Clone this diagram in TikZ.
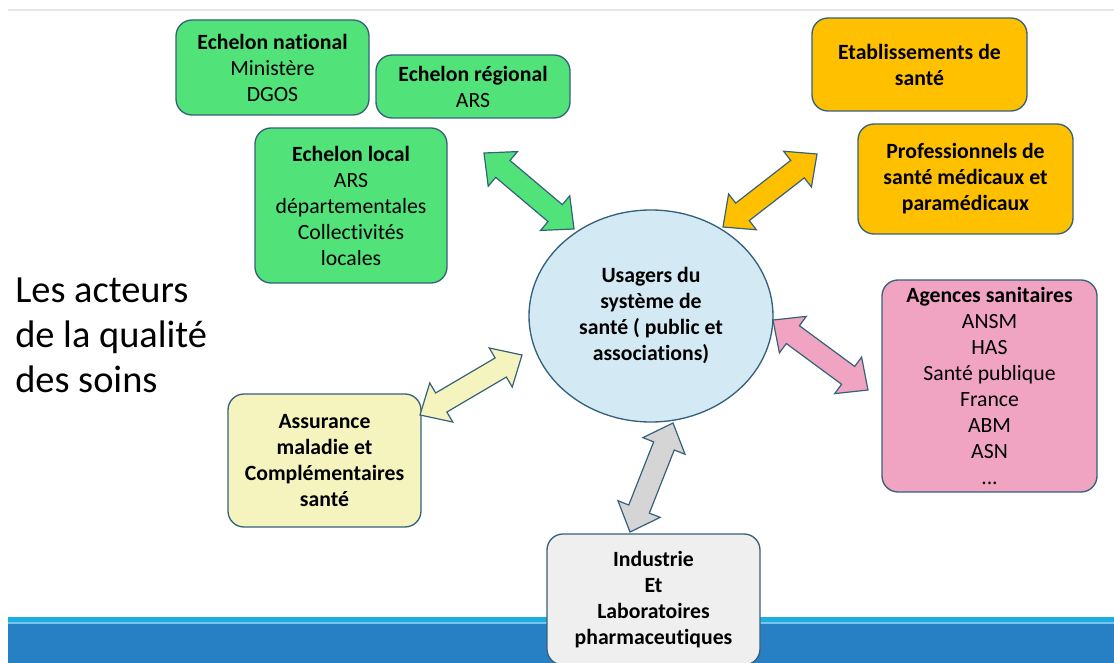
\documentclass[tikz,border=0pt]{standalone}
\usepackage{fontspec}
\setmainfont[Ligatures=NoCommon]{Carlito}
\usetikzlibrary{calc,shapes.geometric}

\definecolor{edge}{HTML}{35617A}
\definecolor{greenfill}{HTML}{51E27A}
\definecolor{orangefill}{HTML}{FFC000}
\definecolor{pinkfill}{HTML}{F0A4C2}
\definecolor{yellowfill}{HTML}{F5F4BE}
\definecolor{greyfill}{HTML}{EFEFEF}
\definecolor{greyarrow}{HTML}{D5D5D5}
\definecolor{bluefill}{HTML}{D3EAF5}
\definecolor{barcyan}{HTML}{1AAEE2}
\definecolor{barlight}{HTML}{7CC3EA}
\definecolor{bardark}{HTML}{2780C4}
\definecolor{rulegrey}{HTML}{E6E6E6}

% half head width, half shaft width, head length
\newcommand\hw{17pt}
\newcommand\sw{8.3pt}
\newcommand\hl{18.5pt}

% double-headed block arrow between two named points
\newcommand\twoway[3]{%
  \coordinate (ha) at ($(#2)!\hl!(#3)$);
  \coordinate (hb) at ($(#3)!\hl!(#2)$);
  \draw[#1] (#2) -- ($(ha)!\hw!90:(#2)$) -- ($(ha)!\sw!90:(#2)$)
    -- ($(hb)!\sw!-90:(#3)$) -- ($(hb)!\hw!-90:(#3)$) -- (#3)
    -- ($(hb)!\hw!90:(#3)$) -- ($(hb)!\sw!90:(#3)$)
    -- ($(ha)!\sw!-90:(#2)$) -- ($(ha)!\hw!-90:(#2)$) -- cycle;
}

\newcommand\bodysize{\fontsize{16.3}{19.5}\selectfont}

\tikzset{
  box/.style={draw=edge, line width=1pt, rounded corners=12pt, align=center,
    inner sep=2pt, font=\bodysize},
  boldbox/.style={box, font=\bfseries\bodysize},
  blockarrow/.style={draw=edge, line width=0.9pt, line join=miter},
}

\begin{document}
\begin{tikzpicture}[x=0.75pt,y=-0.75pt]
\useasboundingbox (0,0) rectangle (1114,663);
\clip (0,0) rectangle (1114,663);

% thin rule at the top and blue band at the bottom
\draw[rulegrey, line width=0.8pt] (8,10) -- (1114,10);
\fill[barcyan] (8,617) rectangle (1114,622);
\fill[barlight] (8,622) rectangle (1114,624);
\fill[bardark] (8,624) rectangle (1114,663);

% title
\node[anchor=north west, align=left, inner sep=0pt,
  font=\fontsize{28.8}{33.5}\selectfont] (title) at (15,278)
  {Les acteurs\\de la qualité\\des soins};

% centre
\node[ellipse, draw=edge, line width=1pt, fill=bluefill,
  minimum width=183pt, minimum height=159pt, align=center,
  font=\bfseries\bodysize] (users) at (651,316)
  {Usagers du\\système de\\santé ( public et\\associations)};

% actors
\node[box, fill=greenfill, minimum width=144.75pt, minimum height=71.25pt]
  (national) at (272.5,67.5) {\textbf{Echelon national}\\Ministère\\DGOS};
\node[box, fill=greenfill, minimum width=145.5pt, minimum height=47.25pt]
  (regional) at (473,86.5) {\textbf{Echelon régional}\\ARS};
\node[box, fill=greenfill, minimum width=144pt, minimum height=116.25pt]
  (local) at (351,205.5)
  {\textbf{Echelon local}\\ARS\\départementales\\Collectivités\\locales};
\node[boldbox, fill=orangefill, minimum width=161.25pt, minimum height=69.75pt]
  (etab) at (919.5,64.5) {Etablissements de\\santé};
\node[boldbox, fill=orangefill, minimum width=161.25pt, minimum height=82.5pt]
  (pros) at (965.5,179) {Professionnels de\\santé médicaux et\\paramédicaux};
\node[box, fill=pinkfill, minimum width=161.25pt, minimum height=159pt]
  (agences) at (989.5,386)
  {\textbf{Agences sanitaires}\\ANSM\\HAS\\Santé publique\\France\\ABM\\ASN\\...};
\node[boldbox, fill=yellowfill, minimum width=144.75pt, minimum height=99.75pt]
  (assur) at (324.5,460.5) {Assurance\\maladie et\\Complémentaires\\santé};
\node[boldbox, fill=greyfill, minimum width=159.75pt, minimum height=98.25pt]
  (indus) at (653.5,599.5) {Industrie\\Et\\Laboratoires\\pharmaceutiques};

% arrow end points
\coordinate (gA) at (484,153);  \coordinate (gB) at (574,229);
\coordinate (oA) at (817,154);  \coordinate (oB) at (723,227);
\coordinate (pA) at (773,320);  \coordinate (pB) at (868,390);
\coordinate (yA) at (420,415);  \coordinate (yB) at (522,355);
\coordinate (rA) at (673,423);  \coordinate (rB) at (630,532);

\twoway{blockarrow, fill=greenfill}{gA}{gB}
\twoway{blockarrow, fill=orangefill}{oA}{oB}
\twoway{blockarrow, fill=pinkfill}{pA}{pB}
\twoway{blockarrow, fill=yellowfill}{yA}{yB}
\twoway{blockarrow, fill=greyarrow}{rA}{rB}
\end{tikzpicture}
\end{document}
